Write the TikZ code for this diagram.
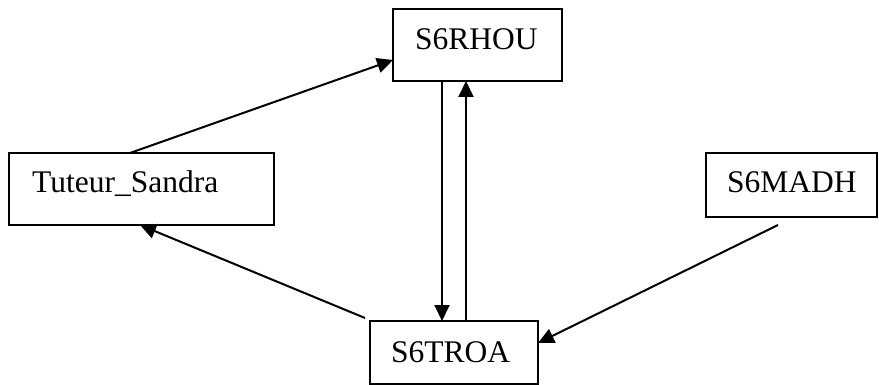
\documentclass[tikz,border=0pt]{standalone}
\usepackage{fontspec}
\setmainfont{Liberation Serif}
\usetikzlibrary{arrows.meta}
\begin{document}
\begin{tikzpicture}[x=1pt,y=-1pt,
  boxnode/.style={draw=black,line width=2pt,rectangle,inner sep=0pt,outer sep=0pt},
  lbl/.style={anchor=base west,inner sep=0pt,font=\fontsize{31.5}{31.5}\selectfont},
  arr/.style={line width=2pt,-{Triangle[length=16pt,width=15pt]}}]
\useasboundingbox (0,0) rectangle (879,385);
\node[boxnode,minimum width=169pt,minimum height=72pt] (rhou) at (477.5,45) {};
\node[boxnode,minimum width=265pt,minimum height=72pt] (tut) at (141.5,189) {};
\node[boxnode,minimum width=168pt,minimum height=63pt] (troa) at (454,352.5) {};
\node[boxnode,minimum width=171pt,minimum height=64pt] (madh) at (791.5,185) {};
\node[lbl] (trhou) at (415,50) {S6RHOU};
\node[lbl] (ttut) at (32,193) {Tuteur\_Sandra};
\node[lbl] (ttroa) at (391,362) {S6TROA};
\node[lbl] (tmadh) at (727,193) {S6MADH};
\draw[arr] ([xshift=121pt]tut.north west) -- ([yshift=-51pt]rhou.north west);
\draw[arr] ([xshift=49pt]rhou.south west) -- ([xshift=72pt]troa.north west);
\draw[arr] ([xshift=96pt]troa.north west) -- ([xshift=73pt]rhou.south west);
\draw[arr] ([shift={(-5pt,3pt)}]troa.north west) -- ([xshift=131pt]tut.south west);
\draw[arr] ([shift={(72pt,-8pt)}]madh.south west) -- ([yshift=-22pt]troa.north east);
\end{tikzpicture}
\end{document}
